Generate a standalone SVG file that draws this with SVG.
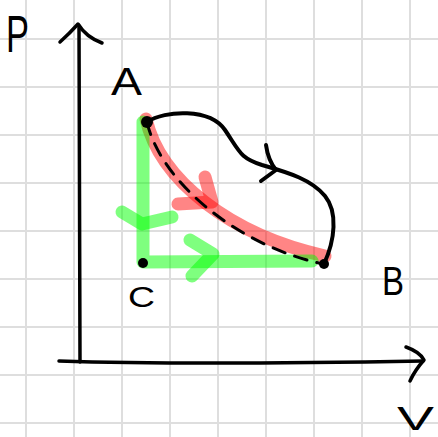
<svg xmlns="http://www.w3.org/2000/svg" width="438" height="437" viewBox="0 0 438 437">
<style>
.grid line{stroke:#dedede;stroke-width:2}
.ink{fill:none;stroke:#000;stroke-width:4;stroke-linecap:round;stroke-linejoin:round}
.axis{fill:none;stroke:#000;stroke-width:3.5;stroke-linecap:round;stroke-linejoin:round}
.red{fill:none;stroke:#ff0000;stroke-opacity:0.48;stroke-width:13;stroke-linecap:round;stroke-linejoin:round}
.green{fill:none;stroke:#00ff00;stroke-opacity:0.5;stroke-width:13;stroke-linecap:round;stroke-linejoin:round}
.dash{fill:none;stroke:#000;stroke-width:3;stroke-dasharray:13 10;stroke-linecap:round}
.lbl{font-family:"Liberation Sans",Arial,sans-serif;fill:#000}
</style>
<rect width="438" height="437" fill="#fff"/>
<g class="grid">
<line x1="26" y1="0" x2="26" y2="437"/><line x1="74" y1="0" x2="74" y2="437"/><line x1="122" y1="0" x2="122" y2="437"/><line x1="170" y1="0" x2="170" y2="437"/><line x1="218" y1="0" x2="218" y2="437"/><line x1="266" y1="0" x2="266" y2="437"/><line x1="314" y1="0" x2="314" y2="437"/><line x1="362" y1="0" x2="362" y2="437"/><line x1="410" y1="0" x2="410" y2="437"/>
<line x1="0" y1="39" x2="438" y2="39"/><line x1="0" y1="87" x2="438" y2="87"/><line x1="0" y1="135" x2="438" y2="135"/><line x1="0" y1="183" x2="438" y2="183"/><line x1="0" y1="231" x2="438" y2="231"/><line x1="0" y1="279" x2="438" y2="279"/><line x1="0" y1="327" x2="438" y2="327"/><line x1="0" y1="375" x2="438" y2="375"/><line x1="0" y1="423" x2="438" y2="423"/>
</g>
<g id="axes">
<path class="axis" d="M79,26 L80,362"/>
<path class="axis" d="M60,42 Q70,33 78,24 Q86,37 102,43"/>
<path class="axis" d="M59,361 C150,364 250,364 423,361"/>
<path class="axis" d="M406,347 Q420,352 424,360 Q415,370 410,381"/>
<text class="lbl" x="6" y="52" font-size="52" textLength="23" lengthAdjust="spacingAndGlyphs">P</text>
<text class="lbl" x="397" y="430" font-size="34" textLength="37" lengthAdjust="spacingAndGlyphs">V</text>
</g>
<g id="connectors">
<path class="red" d="M146,119 C160,180 230,235 325,256"/>
<path class="red" d="M205,177 L212,202 L178,204"/>
<path class="green" d="M143,122 L143,262 L312,261"/>
<path class="green" d="M122,212 L142,224 L172,217"/>
<path class="green" d="M190,240 L213,254 L192,276"/>
<path class="dash" d="M147,122 C160,180 235,245 323,264"/>
<path class="ink" d="M147,122 C165,110 210,108 225,130 S240,158 262,165 C290,173 312,180 325,196 C338,212 335,240 324,264"/>
<path class="ink" d="M266,145 Q268,160 276,170 L261,181"/>
</g>
<g id="A">
<circle cx="147" cy="122" r="6"/>
<text class="lbl" x="111" y="95" font-size="38" textLength="31" lengthAdjust="spacingAndGlyphs">A</text>
</g>
<g id="B">
<circle cx="324" cy="264" r="5"/>
<text class="lbl" x="382" y="295" font-size="40" textLength="22" lengthAdjust="spacingAndGlyphs">B</text>
</g>
<g id="C">
<circle cx="143" cy="263" r="5"/>
<text class="lbl" x="128" y="307" font-size="29" textLength="27" lengthAdjust="spacingAndGlyphs">C</text>
</g>
</svg>
